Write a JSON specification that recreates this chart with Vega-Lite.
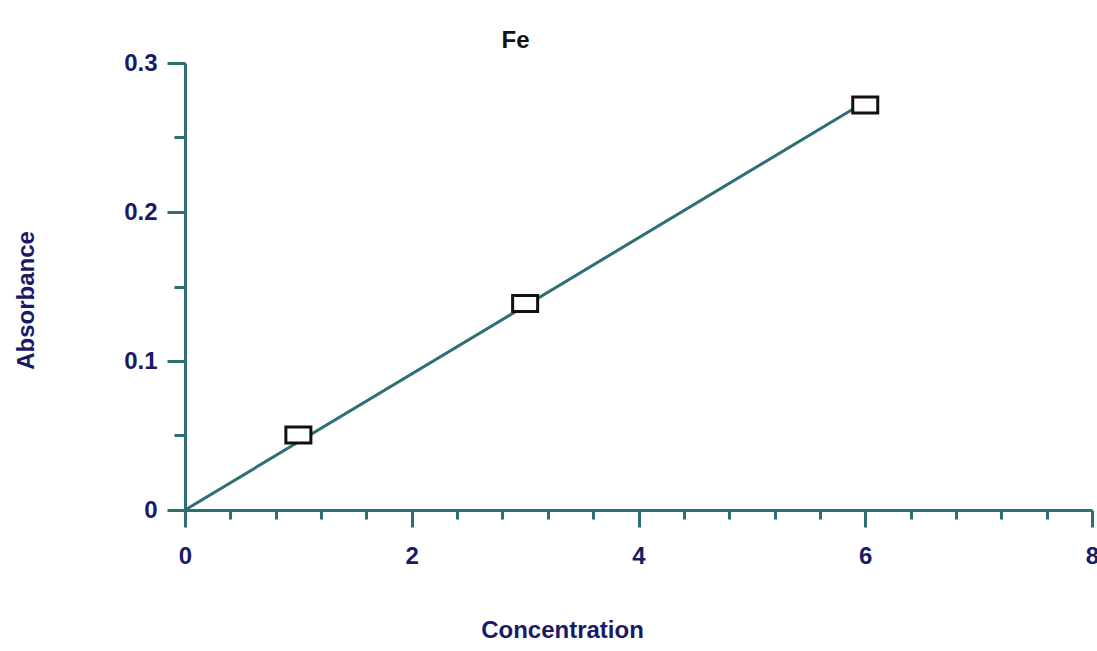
{
  "$schema": "https://vega.github.io/schema/vega-lite/v6.json",
  "autosize": "none",
  "width": 907,
  "height": 447,
  "padding": {"left": 185, "top": 63, "right": 5, "bottom": 141},
  "background": "white",
  "title": {"text": "Fe", "fontSize": 24, "font": "Liberation Sans", "fontWeight": "bold", "color": "#111111", "anchor": "middle", "dx": -123, "dy": 6, "offset": 4},
  "datasets": {
    "points": [
      {"concentration": 1, "absorbance": 0.0503},
      {"concentration": 3, "absorbance": 0.1386},
      {"concentration": 6, "absorbance": 0.2718}
    ],
    "fit": [
      {"concentration": 0, "absorbance": 0},
      {"concentration": 6, "absorbance": 0.274}
    ]
  },
  "layer": [
    {
      "data": {"name": "fit"},
      "mark": {"type": "line", "color": "#2d6f74", "strokeWidth": 3},
      "encoding": {
        "x": {"field": "concentration", "type": "quantitative", "scale": {"domain": [0, 8], "nice": false},
          "axis": {"orient": "bottom", "values": [0.4, 0.8, 1.2, 1.6, 2.4, 2.8, 3.2, 3.6, 4.4, 4.8, 5.2, 5.6, 6.4, 6.8, 7.2, 7.6], "labels": false, "domain": false, "grid": false, "title": null, "tickSize": 9, "tickWidth": 3, "tickColor": "#2d6f74"}},
        "y": {"field": "absorbance", "type": "quantitative", "scale": {"domain": [0, 0.3], "nice": false},
          "axis": {"orient": "left", "values": [0.05, 0.15, 0.25], "labels": false, "domain": false, "grid": false, "title": null, "tickSize": 11, "tickWidth": 3, "tickColor": "#2d6f74"}}
      }
    },
    {
      "data": {"name": "points"},
      "mark": {"type": "point", "shape": "M-1,-0.64H1V0.64H-1Z", "size": 625, "filled": false, "fill": "white", "fillOpacity": 1, "stroke": "#111111", "strokeWidth": 3, "opacity": 1},
      "encoding": {
        "x": {"field": "concentration", "type": "quantitative", "scale": {"domain": [0, 8], "nice": false},
          "axis": {"orient": "bottom", "values": [0, 2, 4, 6, 8], "format": "~g", "grid": false, "domainColor": "#2d6f74", "domainWidth": 3, "tickColor": "#2d6f74", "tickWidth": 3, "tickSize": 17, "labelPadding": 17, "labelFont": "Liberation Sans", "labelFontSize": 24, "labelFontWeight": "bold", "labelColor": "#1a1a66", "labelFlush": false, "labelOverlap": false,
            "title": "Concentration", "titleFont": "Liberation Sans", "titleFontSize": 24, "titleFontWeight": "bold", "titleColor": "#1a1a66", "titleX": 377, "titleY": 127, "titleBaseline": "alphabetic", "titleAlign": "center", "titleAnchor": null}},
        "y": {"field": "absorbance", "type": "quantitative", "scale": {"domain": [0, 0.3], "nice": false},
          "axis": {"orient": "left", "values": [0, 0.1, 0.2, 0.3], "format": "~g", "grid": false, "domainColor": "#2d6f74", "domainWidth": 3, "tickColor": "#2d6f74", "tickWidth": 3, "tickSize": 18, "labelPadding": 10, "labelFont": "Liberation Sans", "labelFontSize": 24, "labelFontWeight": "bold", "labelColor": "#1a1a66", "labelFlush": false, "labelOverlap": false,
            "title": "Absorbance", "titleFont": "Liberation Sans", "titleFontSize": 24, "titleFontWeight": "bold", "titleColor": "#1a1a66", "titleX": -152, "titleY": 237, "titleAngle": -90, "titleBaseline": "alphabetic", "titleAlign": "center", "titleAnchor": null}}
      }
    }
  ],
  "resolve": {"axis": {"x": "independent", "y": "independent"}},
  "config": {"view": {"stroke": null}}
}
